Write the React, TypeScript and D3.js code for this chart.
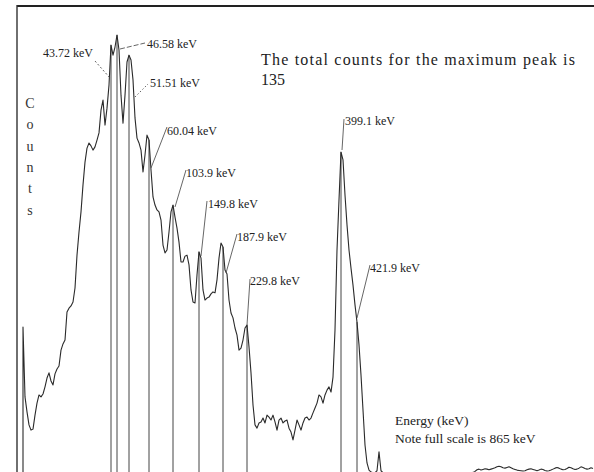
import React from "react";
import * as d3 from "d3";

// Gamma spectrum: counts per channel, starting at channel 3
const firstChannel = 3;
const counts: number[] = [
  45.2, 23.7, 19.1, 15.1, 13.5, 13.8, 18.1, 21.8, 24.3, 23.7,
  24.6, 26.8, 29.5, 31.1, 28.6, 27.4, 30.8, 32.3, 33.2, 38.1,
  40.0, 41.2, 49.8, 51.0, 51.7, 52.9, 57.2, 67.3, 74.4, 80.6,
  88.9, 95.9, 100.2, 101.8, 100.9, 99.6, 100.6, 102.7, 104.9, 111.9,
  115.0, 107.3, 112.5, 119.6, 131.9, 128.8, 131.3, 135.0, 130.4, 116.5,
  107.9, 116.5, 126.7, 128.8, 127.3, 121.2, 109.5, 103.3, 101.8, 99.6,
  92.9, 98.1, 104.2, 102.7, 93.5, 85.2, 82.7, 81.2, 80.6, 78.1,
  70.4, 68.0, 68.9, 74.4, 80.6, 82.7, 79.0, 75.6, 71.3, 65.2,
  65.2, 67.0, 67.3, 64.3, 56.6, 52.9, 52.6, 61.2, 68.3, 66.4,
  56.6, 53.5, 54.1, 54.4, 55.4, 56.0, 55.7, 59.7, 66.4, 71.0,
  69.8, 62.7, 61.5, 53.5, 49.5, 48.0, 44.9, 42.7, 38.1, 38.7,
  41.2, 44.9, 45.8, 39.1, 31.1, 21.2, 15.1, 14.1, 15.7, 16.0,
  17.2, 15.7, 18.1, 17.5, 16.6, 18.1, 16.0, 13.5, 16.6, 17.2,
  15.7, 16.3, 16.6, 14.1, 12.9, 10.5, 13.5, 16.6, 15.1, 13.5,
  15.7, 17.2, 17.5, 16.6, 17.2, 18.8, 20.3, 21.8, 24.3, 23.7,
  21.8, 24.3, 25.8, 26.8, 25.2, 29.8, 44.3, 68.9, 84.3, 99.0,
  96.6, 85.8, 76.6, 68.9, 63.3, 58.1, 52.0, 46.7, 39.7, 30.4,
  19.7, 8.9, 3.4, 1.2, 0.6, 0.4, 0.4, 1.0, 6.8, 1.0,
  0.4, 0.3, 0.4, 0.3, 0.2, 0.3, 0.4, 0.3, 0.3, 0.2,
  0.3, 0.4, 0.3, 0.2, 0.3, 0.3, 0.4, 0.3, 0.2, 0.3,
  0.3, 0.4, 0.3, 0.3, 0.2, 0.3, 0.4, 0.3, 0.3, 0.2,
  0.3, 0.3, 0.4, 0.3, 0.2, 0.3, 0.3, 0.4, 0.3, 0.3,
  0.2, 0.3, 0.4, 0.3, 0.3, 0.5, 0.8,
  1.3, 1.5, 1.2, 1.4, 1.6, 1.5, 1.3, 1.5, 1.7, 1.9,
  2.2, 2.4, 2.2, 1.9, 1.8, 2.0, 2.2, 1.9, 1.6, 1.4,
  1.2, 1.1, 1.0, 0.9, 1.0, 1.3, 1.5, 1.6, 1.4, 1.2,
  1.0, 1.2, 1.5, 1.4, 1.1, 0.9, 1.0, 1.2, 1.5, 1.8,
  2.0, 1.8, 1.5, 1.3, 1.4, 1.7, 2.1, 1.9, 1.6, 1.4,
  1.5, 1.8, 2.2, 2.0, 1.7, 1.5, 1.6, 1.9, 1.7,
];

// Identified peaks: label text and the channel each sits on
const peakLabels = [
  "43.72 keV", "46.58 keV", "51.51 keV", "60.04 keV", "103.9 keV",
  "149.8 keV", "187.9 keV", "229.8 keV", "399.1 keV", "421.9 keV",
];
const peakChannels = [47, 50, 56, 66, 78, 91, 103, 115, 162, 170];

const maxCount = 135;
const countLetters = ["C", "o", "u", "n", "t", "s"];

// Label placement: text anchor, leader start/end, dash style
const labelLayout = [
  { tx: 43, ty: 57, x1: 95, y1: 61, x2: 110, y2: 78, dash: "2,2" },
  { tx: 147, ty: 48, x1: 120, y1: 49, x2: 145, y2: 43, dash: "5,2" },
  { tx: 150, ty: 87, x1: 135, y1: 97, x2: 148, y2: 84, dash: "1.5,2" },
  { tx: 167, ty: 135, x1: 151, y1: 168, x2: 167, y2: 127, dash: "" },
  { tx: 186, ty: 177, x1: 175, y1: 207, x2: 186, y2: 170, dash: "" },
  { tx: 208, ty: 208, x1: 201, y1: 256, x2: 207, y2: 201, dash: "" },
  { tx: 237, ty: 241, x1: 226, y1: 273, x2: 237, y2: 234, dash: "" },
  { tx: 250, ty: 285, x1: 247, y1: 325, x2: 250, y2: 279, dash: "" },
  { tx: 345, ty: 125, x1: 342, y1: 150, x2: 344, y2: 119, dash: "" },
  { tx: 370, ty: 272, x1: 357, y1: 318, x2: 370, y2: 265, dash: "" },
];

const W = 594;
const H = 472;
const serif = "'Liberation Serif', 'DejaVu Serif', serif";

export default function App() {
  const x = d3.scaleLinear().domain([0, 288.5]).range([17, 594]);
  const y = d3.scaleLinear().domain([0, maxCount]).range([474, 35]);

  const points: [number, number][] = [
    [firstChannel, 0],
    ...counts.map((v, i) => [firstChannel + i, v] as [number, number]),
  ];
  const line = d3
    .line<[number, number]>()
    .x((d) => x(d[0]))
    .y((d) => y(d[1]));

  return (
    <svg
      width={W}
      height={H}
      style={{ position: "absolute", left: 0, top: 0, background: "#fff" }}
    >
      {/* frame */}
      <line x1={17} y1={6} x2={W} y2={6} stroke="#222" strokeWidth={2} />
      <line x1={17} y1={5} x2={17} y2={H} stroke="#333" strokeWidth={1.4} />

      {/* peak marker lines */}
      {peakChannels.map((c, i) => (
        <line
          key={"m" + i}
          x1={x(c)}
          x2={x(c)}
          y1={y(counts[c - firstChannel])}
          y2={H}
          stroke="#444"
          strokeWidth={1}
        />
      ))}

      {/* spectrum */}
      <path
        d={line(points) || ""}
        fill="none"
        stroke="#2a2a2a"
        strokeWidth={1.1}
        strokeLinejoin="round"
      />

      {/* leaders and labels */}
      {peakLabels.map((t, i) => {
        const L = labelLayout[i];
        return (
          <g key={"l" + i}>
            <line
              x1={L.x1}
              y1={L.y1}
              x2={L.x2}
              y2={L.y2}
              stroke="#555"
              strokeWidth={0.9}
              strokeDasharray={L.dash || undefined}
            />
            <text
              x={L.tx}
              y={L.ty}
              fontFamily={serif}
              fontSize={12}
              fill="#222"
            >
              {t}
            </text>
          </g>
        );
      })}

      {/* axis title, stacked letters */}
      {countLetters.map((ch, i) => (
        <text
          key={"c" + i}
          x={30}
          y={108 + i * 21.3}
          textAnchor="middle"
          fontFamily={serif}
          fontSize={14}
          fill="#333"
        >
          {ch}
        </text>
      ))}

      <text
        x={261}
        y={65}
        fontFamily={serif}
        fontSize={16}
        fill="#222"
        textLength={314}
        lengthAdjust="spacing"
      >
        The total counts for the maximum peak is
      </text>
      <text x={261} y={85} fontFamily={serif} fontSize={16} fill="#222">
        {maxCount}
      </text>

      <text x={395} y={425} fontFamily={serif} fontSize={13.5} fill="#222">
        Energy (keV)
      </text>
      <text x={395} y={443} fontFamily={serif} fontSize={13.5} fill="#222">
        Note full scale is 865 keV
      </text>
    </svg>
  );
}
